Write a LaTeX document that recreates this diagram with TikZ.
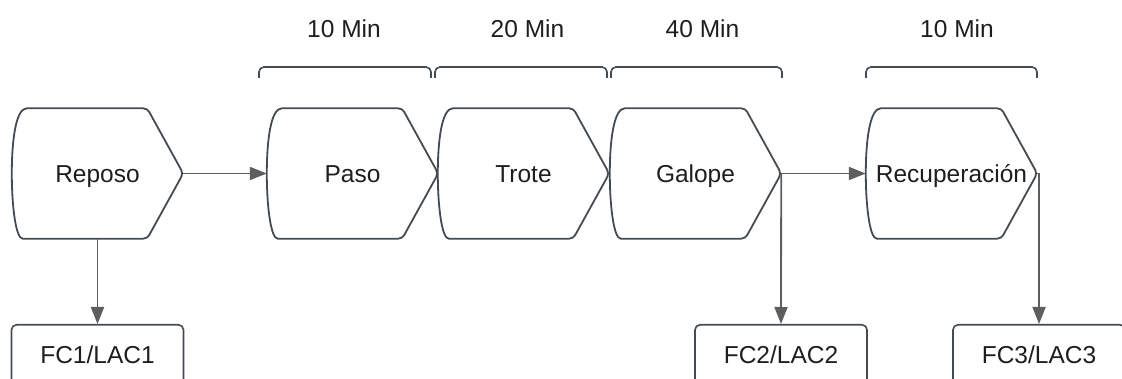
\documentclass[tikz,border=0pt]{standalone}
\usepackage{fontspec}
\setmainfont{Liberation Sans}
\usetikzlibrary{arrows.meta,calc}

\definecolor{outline}{HTML}{454B52}
\definecolor{wire}{HTML}{5E5E5E}
\definecolor{ink}{HTML}{1E1E1E}

\tikzset{
  x=1pt, y=-1pt,
  every node/.style={font=\fontsize{24.5}{29}\selectfont, text=ink,
    text height=17.5pt, text depth=0pt},
  % training phase: curved left side, pointed right side
  phase/.style={minimum width=171pt, minimum height=130pt, inner sep=0pt, draw=none},
  phaseline/.style={draw=outline, line width=1.8pt, line join=round},
  result/.style={draw=outline, line width=1.6pt, rounded corners=5pt,
    minimum width=172pt, minimum height=60pt, inner sep=0pt},
  link/.style={draw=wire, line width=1.8pt,
    -{Triangle[length=17pt,width=13pt]}},
  span/.style={draw=outline, line width=1.6pt, rounded corners=5pt},
}

% outline of a phase node
\newcommand{\phaseoutline}[1]{%
  \draw[phaseline]
    ($(#1.north west)+(15,0)$)
    [rounded corners=4pt] -- ($(#1.north east)+(-36,0)$)
    -- (#1.east) -- ($(#1.south east)+(-36,0)$)
    -- ($(#1.south west)+(15,0)$) [sharp corners]
    .. controls ($(#1.south west)+(4,0)$) and ($(#1.west)+(0,33)$) .. (#1.west)
    .. controls ($(#1.west)+(0,-33)$) and ($(#1.north west)+(4,0)$)
    .. ($(#1.north west)+(15,0)$);}

% duration bracket from x #1 to x #2
\newcommand{\spanbracket}[2]{%
  \draw[span] (#1,78) -- (#1,67) -- (#2,67) -- (#2,78);}

\begin{document}
\begin{tikzpicture}
  \useasboundingbox (0,0) rectangle (1122,379);

  % phases
  \node[phase] (reposo) at (97.5,173.5) {Reposo};
  \node[phase] (paso)   at (352.5,173.5) {Paso};
  \node[phase] (trote)  at (523.5,173.5) {Trote};
  \node[phase] (galope) at (695.5,173.5) {Galope};
  \node[phase] (recup)  at (951.5,173.5) {Recuperación};
  \foreach \n in {reposo,paso,trote,galope,recup} {\phaseoutline{\n}}

  % durations
  \spanbracket{259}{431}
  \spanbracket{435}{607}
  \spanbracket{611}{782}
  \spanbracket{866}{1037}
  \node (d1) at (344,28.5) {10 Min};
  \node (d2) at (527.5,28.5) {20 Min};
  \node (d3) at (702.5,28.5) {40 Min};
  \node (d4) at (957,28.5) {10 Min};

  % measurements
  \node[result, anchor=north] (fc1) at (97.5,324) {FC1/LAC1};
  \node[result, anchor=north] (fc2) at (781,324) {FC2/LAC2};
  \node[result, anchor=north] (fc3) at (1039,324) {FC3/LAC3};

  % connectors
  \draw[link] (reposo.east) -- (paso.west);
  \draw[link] (galope.east) -- (recup.west);
  \draw[link] (reposo.south) -- (fc1.north);
  \draw[link] (galope.east) -- (fc2.north);
  \draw[link] (recup.east) -| (fc3.north);
\end{tikzpicture}
\end{document}
